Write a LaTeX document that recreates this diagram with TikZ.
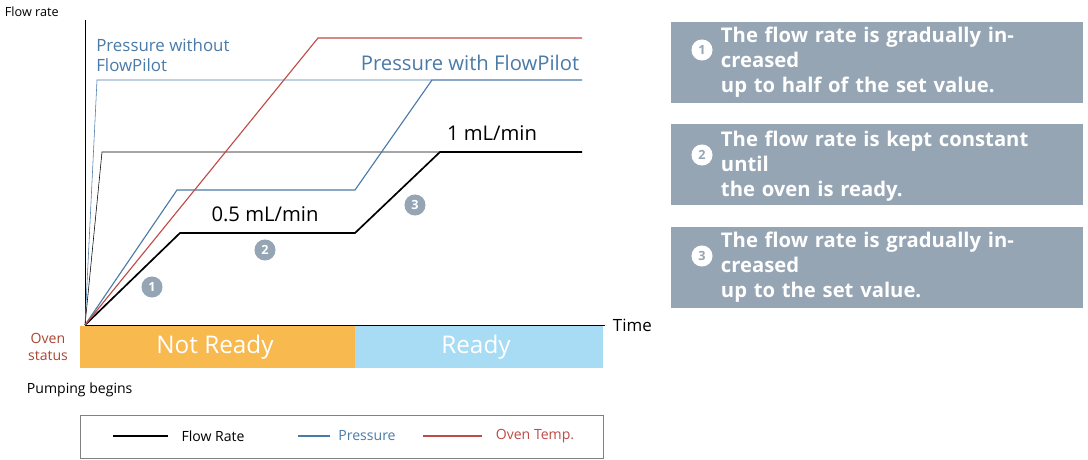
\documentclass[tikz,border=0pt]{standalone}
\usepackage{fontspec}
\setmainfont{Open Sans}
\definecolor{flowblue}{RGB}{74,122,168}
\definecolor{tempred}{RGB}{190,75,70}
\definecolor{notready}{RGB}{248,185,78}
\definecolor{ready}{RGB}{168,220,244}
\definecolor{stepgray}{RGB}{150,165,180}
\definecolor{ovenlbl}{RGB}{170,70,50}
\tikzset{
  stepnum/.style={circle,fill=stepgray,text=white,inner sep=0pt,minimum size=15pt,font=\small\bfseries},
  stepbox/.style={fill=stepgray,anchor=north west,minimum width=412\px,minimum height=81\px},
  boxtext/.style={text=white,font=\Large\bfseries,align=left,anchor=west,text width=340\px},
  whitenum/.style={circle,fill=white,text=stepgray,inner sep=0pt,minimum size=15pt,font=\small\bfseries}
}
\newlength{\px}\setlength{\px}{0.025cm}
\begin{document}
\begin{tikzpicture}[x=0.025cm,y=-0.025cm]
  \useasboundingbox (0,0) rectangle (1088,460);

  % axes
  \coordinate (o) at (85,325);
  \coordinate (ytop) at (85,20);
  \coordinate (xend) at (605,325);
  \draw (ytop) -- (o) -- (xend);
  \node [anchor=west,font=\small] (flowlbl) at (0,12) {Flow rate};
  \node [anchor=west,font=\large] (timelbl) at (608,325) {Time};

  % flow rate
  \coordinate (f1) at (180,233);
  \coordinate (f2) at (355,233);
  \coordinate (f3) at (440,152);
  \coordinate (f4) at (582,152);
  \coordinate (g1) at (102,152);
  \draw [thin] (o) -- (g1) -- (f3);
  \draw [very thick] (o) -- (f1) -- (f2) -- (f3) -- (f4);

  % pressure
  \coordinate (p1) at (177,190);
  \coordinate (p2) at (355,190);
  \coordinate (p3) at (432,80);
  \coordinate (p4) at (582,80);
  \coordinate (q1) at (97,80);
  \draw [flowblue,thin] (o) -- (q1) -- (p3);
  \draw [flowblue,thick] (o) -- (p1) -- (p2) -- (p3) -- (p4);

  % oven temp
  \coordinate (t1) at (318,38);
  \coordinate (t2) at (582,38);
  \draw [tempred,thick] (o) -- (t1) -- (t2);

  \node [anchor=west,align=left,text=flowblue,font=\large,inner sep=0pt] (pwo) at (96,55) {Pressure without\\FlowPilot};
  \node [text=flowblue,font=\Large] (pw) at (470,63) {Pressure with FlowPilot};
  \node [font=\Large] (full) at (492,133) {1 mL/min};
  \node [font=\Large] (half) at (265,214) {0.5 mL/min};

  \node [stepnum] (s1) at (152,287) {1};
  \node [stepnum] (s2) at (265,250) {2};
  \node [stepnum] (s3) at (415,205) {3};

  % oven status
  \fill [notready] (80,326) rectangle (355,368);
  \fill [ready] (355,326) rectangle (603,368);
  \node [text=white,font=\LARGE] (nr) at (215,347) {Not Ready};
  \node [text=white,font=\LARGE] (rd) at (476,347) {Ready};
  \node [text=ovenlbl,align=center,font=\normalsize] (oven) at (48,347) {Oven\\status};
  \node [anchor=west,font=\normalsize] (pump) at (22,390) {Pumping begins};

  % legend
  \draw [gray] (80,415) rectangle (603,458);
  \draw [thick] (113,436) -- (168,436);
  \node [font=\normalsize] (lg1) at (213,436) {Flow Rate};
  \draw [flowblue,thick] (298,436) -- (330,436);
  \node [text=flowblue,font=\normalsize] (lg2) at (367,436) {Pressure};
  \draw [tempred,thick] (423,436) -- (482,436);
  \node [text=tempred,font=\normalsize] (lg3) at (535,436) {Oven Temp.};

  % explanation boxes
  \node [stepbox] (b1) at (671,22) {};
  \node [stepbox] (b2) at (671,124) {};
  \node [stepbox] (b3) at (671,227) {};
  \node [whitenum] (w1) at (702,50) {1};
  \node [whitenum] (w2) at (702,155) {2};
  \node [whitenum] (w3) at (702,256) {3};
  \node [boxtext] (e1) at (716,62) {The flow rate is gradually increased\\up to half of the set value.};
  \node [boxtext] (e2) at (716,166) {The flow rate is kept constant until\\the oven is ready.};
  \node [boxtext] (e3) at (716,267) {The flow rate is gradually increased\\up to the set value.};
\end{tikzpicture}
\end{document}
